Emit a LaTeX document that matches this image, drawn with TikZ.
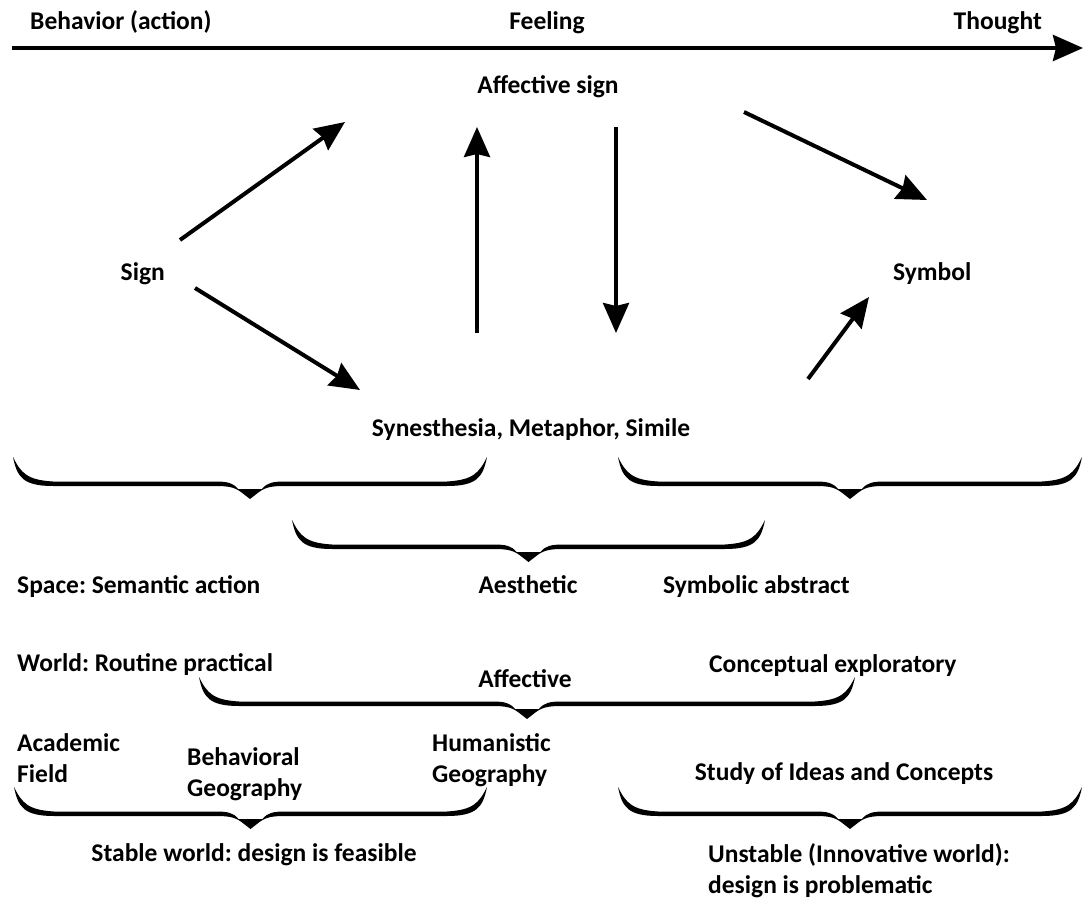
\documentclass[tikz,border=0pt]{standalone}
\usepackage{fontspec}
\setmainfont{Carlito}
\frenchspacing
\usetikzlibrary{arrows.meta}
\tikzset{
  lbl/.style={font=\fontsize{25.5}{31}\selectfont\bfseries, inner sep=0pt, align=left},
  arr/.style={line width=4pt, -{Stealth[length=30pt,width=26pt,inset=3pt]}},
}
\newcommand\curlybrace[3]{%
 \pgfmathsetmacro\bL{#1}\pgfmathsetmacro\bR{#2}\pgfmathsetmacro\bM{(#1+#2)/2}\pgfmathsetmacro\bY{#3}%
 \fill[black] (\bL,\bY) .. controls (\bL+8,\bY+16) and (\bL+14,\bY+23) .. (\bL+40,\bY+24.5)
   -- (\bM-35,\bY+24.5) .. controls (\bM-22,\bY+24.5) and (\bM-17,\bY+26) .. (\bM-12,\bY+32)
   -- (\bM+12,\bY+32) .. controls (\bM+17,\bY+26) and (\bM+22,\bY+24.5) .. (\bM+35,\bY+24.5)
   -- (\bR-40,\bY+24.5) .. controls (\bR-14,\bY+23) and (\bR-8,\bY+16) .. (\bR,\bY)
   .. controls (\bR-4,\bY+20) and (\bR-10,\bY+29) .. (\bR-40,\bY+29)
   -- (\bM+35,\bY+29) .. controls (\bM+22,\bY+29) and (\bM+16,\bY+30) .. (\bM+9,\bY+35)
   -- (\bM,\bY+42) -- (\bM-9,\bY+35)
   .. controls (\bM-16,\bY+30) and (\bM-22,\bY+29) .. (\bM-35,\bY+29)
   -- (\bL+40,\bY+29) .. controls (\bL+10,\bY+29) and (\bL+4,\bY+20) .. (\bL,\bY) -- cycle;}
\begin{document}
\begin{tikzpicture}[x=1pt,y=-1pt]
\useasboundingbox (0,0) rectangle (1085,899);
% axis
\coordinate (ax0) at (12,48);
\coordinate (ax1) at (1083,48);
\draw[line width=4pt, -{Stealth[length=30pt,width=26pt,inset=3pt]}] (ax0) -- (ax1);
\node[lbl, anchor=base west] (beh) at (30,30) {Behavior (action)};
\node[lbl, anchor=base] (feel) at (547,30) {Feeling};
\node[lbl, anchor=base east] (thought) at (1042,30) {Thought};
% main labels
\node[lbl, anchor=base] (aff) at (548,93) {Affective sign};
\node[lbl, anchor=base east] (sign) at (165,280) {Sign};
\node[lbl, anchor=base west] (sym) at (893,280) {Symbol};
\node[lbl, anchor=base] (syn) at (531,436) {Synesthesia, Metaphor, Simile};
% arrow endpoints
\coordinate (a1s) at (180,240); \coordinate (a1e) at (345,122);
\coordinate (a2s) at (477,333); \coordinate (a2e) at (477,127);
\coordinate (a3s) at (616,127); \coordinate (a3e) at (616,333);
\coordinate (a4s) at (744,112); \coordinate (a4e) at (927,200);
\coordinate (a5s) at (195,288); \coordinate (a5e) at (360,390);
\coordinate (a6s) at (808,379); \coordinate (a6e) at (869,297);
\draw[arr] (a1s) -- (a1e);
\draw[arr] (a2s) -- (a2e);
\draw[arr] (a3s) -- (a3e);
\draw[arr] (a4s) -- (a4e);
\draw[arr] (a5s) -- (a5e);
\draw[arr] (a6s) -- (a6e);
% braces
\curlybrace{13}{487}{457}
\curlybrace{618}{1082}{457}
\curlybrace{292}{765}{520}
\curlybrace{199}{855}{677}
\curlybrace{14}{487}{787}
\curlybrace{618}{1082}{787}
% lower labels
\node[lbl, anchor=base west] (space) at (17,593) {Space: Semantic action};
\node[lbl, anchor=base] (aes) at (528,593) {Aesthetic};
\node[lbl, anchor=base west] (symab) at (663,593) {Symbolic abstract};
\node[lbl, anchor=base west] (world) at (17,671) {World: Routine practical};
\node[lbl, anchor=base west] (concept) at (709,672) {Conceptual exploratory};
\node[lbl, anchor=base] (affv) at (525,687) {Affective};
\node[lbl, anchor=base west] (acad) at (17,782) {Academic\\Field};
\node[lbl, anchor=base west] (bgeo) at (187,796) {Behavioral\\Geography};
\node[lbl, anchor=base west] (hgeo) at (432,782) {Humanistic\\Geography};
\node[lbl, anchor=base] (study) at (844,780) {Study of Ideas and Concepts};
\node[lbl, anchor=base] (stable) at (254,861) {Stable world: design is feasible};
\node[lbl, anchor=base west] (unstable) at (708,893) {Unstable (Innovative world):\\design is problematic};
\end{tikzpicture}
\end{document}
